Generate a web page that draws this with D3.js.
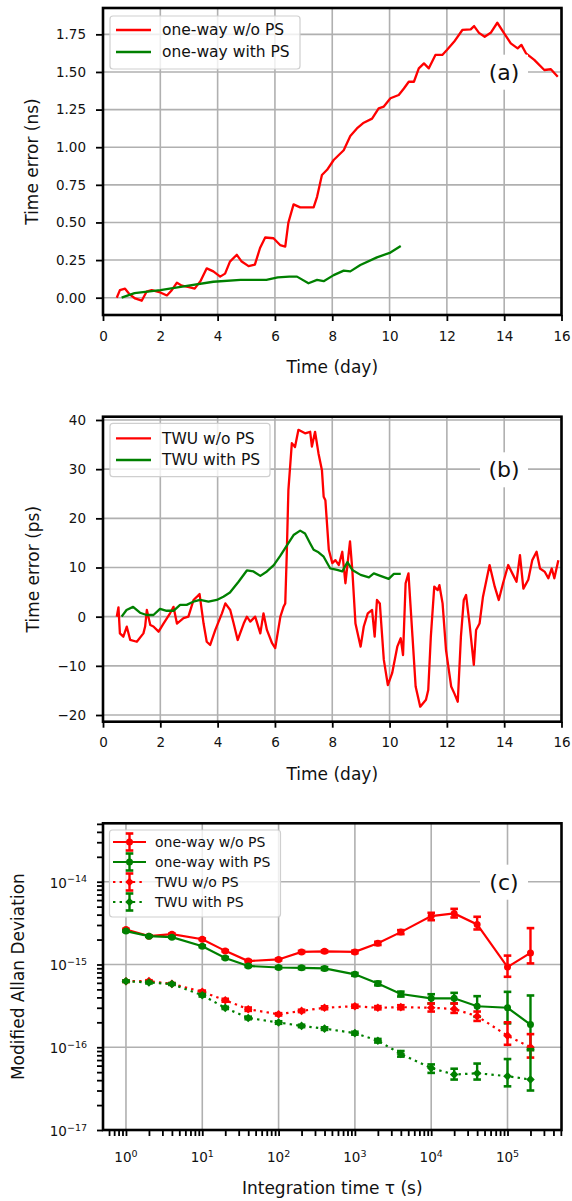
<!DOCTYPE html>
<html>
<head>
<meta charset="utf-8">
<title>Time error and Allan deviation</title>
<script src="https://d3js.org/d3.v7.min.js"></script>
<style>
  body { margin: 0; background: #fff; }
  text { font-family: "DejaVu Sans", sans-serif; fill: #111; }
</style>
</head>
<body>
<div id="chart"></div>
<script>
// ---- data ----
// (a) one-way time error, ns
var owNoPsT = [0.48, 0.59, 0.77, 0.94, 1.12, 1.35, 1.52, 1.7, 2.0, 2.23, 2.4, 2.58, 2.75, 3.0, 3.2, 3.4, 3.62, 3.85, 4.09, 4.26, 4.43, 4.67, 4.84, 5.08, 5.3, 5.48, 5.66, 5.95, 6.18, 6.36, 6.47, 6.65, 6.88, 7.35, 7.47, 7.64, 7.82, 8.05, 8.4, 8.63, 8.86, 9.1, 9.39, 9.62, 9.8, 10.03, 10.32, 10.5, 10.67, 10.85, 11.02, 11.2, 11.37, 11.6, 11.84, 12.0, 12.25, 12.54, 12.83, 12.95, 13.12, 13.32, 13.53, 13.76, 14.0, 14.23, 14.47, 14.6, 14.76, 15.05, 15.4, 15.63, 15.87];
var owNoPsV = [0.0, 0.05, 0.06, 0.02, -0.005, -0.02, 0.04, 0.05, 0.035, 0.015, 0.05, 0.1, 0.08, 0.07, 0.06, 0.11, 0.195, 0.175, 0.14, 0.16, 0.24, 0.285, 0.24, 0.21, 0.22, 0.33, 0.4, 0.395, 0.35, 0.34, 0.5, 0.62, 0.6, 0.6, 0.67, 0.815, 0.85, 0.915, 0.98, 1.075, 1.125, 1.163, 1.19, 1.258, 1.27, 1.325, 1.347, 1.39, 1.435, 1.435, 1.524, 1.557, 1.524, 1.613, 1.613, 1.646, 1.7, 1.779, 1.783, 1.805, 1.76, 1.734, 1.76, 1.827, 1.757, 1.69, 1.657, 1.68, 1.624, 1.58, 1.513, 1.518, 1.468];
var owPsT = [0.65, 1.1, 2.0, 2.93, 3.85, 4.8, 5.7, 6.1, 6.5, 6.77, 7.17, 7.47, 7.7, 8.05, 8.4, 8.63, 8.98, 9.56, 10.03, 10.39];
var owPsV = [0.0, 0.03, 0.05, 0.078, 0.106, 0.118, 0.118, 0.135, 0.14, 0.14, 0.096, 0.118, 0.11, 0.15, 0.18, 0.175, 0.217, 0.268, 0.3, 0.343];

// (b) TWU time error, ps
var twNoPsT = [0.48, 0.54, 0.59, 0.71, 0.83, 0.95, 1.18, 1.41, 1.47, 1.53, 1.65, 1.76, 1.94, 2.11, 2.34, 2.46, 2.58, 2.81, 2.98, 3.16, 3.37, 3.51, 3.62, 3.74, 3.92, 4.15, 4.27, 4.44, 4.56, 4.7, 4.91, 5.02, 5.14, 5.31, 5.49, 5.6, 5.72, 5.9, 6.01, 6.19, 6.3,
  6.36, 6.41, 6.47, 6.59, 6.7, 6.82, 7.05, 7.23, 7.29, 7.4, 7.52, 7.64, 7.7, 7.76, 7.88, 8.0, 8.11, 8.23, 8.35, 8.46, 8.62, 8.7, 8.81, 8.99, 9.1, 9.24, 9.39, 9.48, 9.56, 9.66, 9.8, 9.94, 10.09, 10.27, 10.39, 10.47, 10.56, 10.66, 10.8, 10.91, 11.07, 11.27, 11.35, 11.44, 11.56, 11.68, 11.74, 11.85, 11.97, 12.15, 12.26, 12.38, 12.49, 12.59, 12.67, 12.79, 12.94, 13.02, 13.14, 13.26, 13.49, 13.67, 13.81, 13.96, 14.14, 14.31, 14.43, 14.55, 14.67, 14.84, 14.98, 15.13, 15.25, 15.42, 15.54, 15.66, 15.75, 15.89];
var twNoPsV = [0, 1.9, -3.4, -4.07, -2.04, -4.74, -5.1, -3.4, -2.0, 1.36, -1.7, -2.0, -3.05, -1.4, 0.68, 2.0, -1.4, -0.3, 0.0, 3.4, 4.6, -1.4, -5.1, -5.76, -2.7, 0.68, 2.7, 1.36, -1.4, -4.74, -1.4, 0, -1.0, 0, -3.4, 0.68, -2.7, -5.4, -6.4, 0, 2.0,
  2.7, 12.2, 25.8, 35.3, 34.5, 38.0, 37.3, 37.6, 34.6, 37.6, 33.2, 29.8, 24.4, 23.7, 13.6, 10.9, 11.5, 10.5, 13.2, 6.8, 15.3, 9.5, -1.4, -6.1, -2.0, 0.68, 1.36, -4.07, 3.4, 2.7, -8.8, -13.9, -11.5, -6.1, -4.4, -7.8, 6.8, 8.8, -4.07, -14.2, -18.3, -16.9, -14.9, -4.07, 6.1, 5.4, 6.4, 2.7, -6.8, -14.2, -15.6, -17.3, -4.07, 3.4, 4.4, -1.4, -9.8, -2.7, -1.4, 4.07, 10.5, 6.1, 3.4, 6.8, 10.5, 8.5, 7.1, 12.5, 5.7, 7.5, 11.5, 13.2, 9.8, 9.1, 7.8, 9.8, 7.8, 11.5];
var twPsT = [0.65, 0.82, 1.05, 1.29, 1.52, 1.76, 1.99, 2.22, 2.46, 2.69, 2.92, 3.15, 3.39, 3.68, 3.97, 4.2, 4.43, 4.73, 5.02, 5.25, 5.49, 5.72, 5.96, 6.19, 6.43, 6.65, 6.88, 7.05, 7.23, 7.35, 7.52, 7.7, 7.93, 8.17, 8.35, 8.53, 8.7, 8.99, 9.28, 9.45, 9.68, 9.97, 10.15, 10.39];
var twPsV = [0.0, 1.36, 2.0, 0.8, 0.34, 0.34, 1.6, 1.2, 1.2, 2.4, 2.4, 3.05, 3.4, 3.05, 3.4, 4.07, 4.9, 7.1, 9.4, 9.2, 8.3, 9.2, 10.5, 12.4, 14.6, 16.6, 17.5, 16.9, 14.9, 13.6, 13.1, 12.2, 9.8, 9.5, 9.2, 11.1, 9.5, 8.5, 8.0, 8.8, 8.3, 7.7, 8.7, 8.7];

// (c) modified Allan deviation
var tau = [1, 2, 4, 10, 20, 40, 100, 200, 400, 1e3, 2e3, 4e3, 1e4, 2e4, 4e4, 1e5, 2e5];
var mdevOwNoPs = [2.65e-15, 2.2e-15, 2.32e-15, 2.02e-15, 1.46e-15, 1.1e-15, 1.15e-15, 1.42e-15, 1.44e-15, 1.42e-15, 1.8e-15, 2.46e-15, 3.84e-15, 4.14e-15, 3.05e-15, 9.3e-16, 1.38e-15];
var mdevOwNoPsLo = [2.6e-15, 2.16e-15, 2.27e-15, 1.98e-15, 1.43e-15, 1.07e-15, 1.12e-15, 1.38e-15, 1.4e-15, 1.37e-15, 1.72e-15, 2.33e-15, 3.43e-15, 3.7e-15, 2.65e-15, 7.1e-16, 1.03e-15];
var mdevOwNoPsHi = [2.7e-15, 2.24e-15, 2.37e-15, 2.06e-15, 1.49e-15, 1.13e-15, 1.18e-15, 1.46e-15, 1.48e-15, 1.47e-15, 1.88e-15, 2.6e-15, 4.21e-15, 4.7e-15, 3.77e-15, 1.28e-15, 2.75e-15];
var mdevOwPs = [2.53e-15, 2.2e-15, 2.14e-15, 1.66e-15, 1.2e-15, 9.6e-16, 9.2e-16, 9.1e-16, 8.95e-16, 7.6e-16, 5.9e-16, 4.4e-16, 3.9e-16, 3.9e-16, 3.13e-16, 3.0e-16, 1.88e-16];
var mdevOwPsLo = [2.48e-15, 2.16e-15, 2.1e-15, 1.62e-15, 1.17e-15, 9.35e-16, 8.95e-16, 8.8e-16, 8.6e-16, 7.3e-16, 5.6e-16, 4.1e-16, 3.38e-16, 3.38e-16, 2.33e-16, 1.94e-16, 9.2e-17];
var mdevOwPsHi = [2.58e-15, 2.24e-15, 2.18e-15, 1.7e-15, 1.23e-15, 9.85e-16, 9.45e-16, 9.4e-16, 9.3e-16, 7.9e-16, 6.2e-16, 4.7e-16, 4.37e-16, 4.54e-16, 4.14e-16, 4.67e-16, 4.22e-16];
var mdevTwNoPs = [6.28e-16, 6.3e-16, 5.83e-16, 4.67e-16, 3.7e-16, 2.88e-16, 2.5e-16, 2.75e-16, 3.0e-16, 3.13e-16, 3.0e-16, 3.05e-16, 3.0e-16, 2.9e-16, 2.37e-16, 1.38e-16, 1.0e-16];
var mdevTwNoPsLo = [6.15e-16, 6.15e-16, 5.7e-16, 4.5e-16, 3.55e-16, 2.75e-16, 2.42e-16, 2.66e-16, 2.88e-16, 3.0e-16, 2.87e-16, 2.88e-16, 2.7e-16, 2.6e-16, 2.08e-16, 1.07e-16, 7.5e-17];
var mdevTwNoPsHi = [6.42e-16, 6.45e-16, 5.96e-16, 4.84e-16, 3.85e-16, 3.02e-16, 2.58e-16, 2.84e-16, 3.12e-16, 3.26e-16, 3.14e-16, 3.22e-16, 3.38e-16, 3.38e-16, 2.7e-16, 2.0e-16, 1.44e-16];
var mdevTwPs = [6.28e-16, 6.05e-16, 5.8e-16, 4.25e-16, 2.99e-16, 2.26e-16, 1.99e-16, 1.81e-16, 1.68e-16, 1.48e-16, 1.2e-16, 8.3e-17, 5.6e-17, 4.68e-17, 4.85e-17, 4.47e-17, 4.07e-17];
var mdevTwPsLo = [6.15e-16, 5.9e-16, 5.66e-16, 4.1e-16, 2.9e-16, 2.18e-16, 1.92e-16, 1.75e-16, 1.62e-16, 1.42e-16, 1.14e-16, 7.7e-17, 4.9e-17, 4.07e-17, 4.07e-17, 3.37e-17, 3.0e-17];
var mdevTwPsHi = [6.42e-16, 6.2e-16, 5.95e-16, 4.4e-16, 3.08e-16, 2.34e-16, 2.06e-16, 1.87e-16, 1.74e-16, 1.54e-16, 1.26e-16, 9.0e-17, 6.2e-17, 5.5e-17, 6.35e-17, 7.2e-17, 9.5e-17];

var dayTicks = [0, 2, 4, 6, 8, 10, 12, 14, 16];
var nsTicks = [0, 0.25, 0.5, 0.75, 1.0, 1.25, 1.5, 1.75];
var psTicks = [-20, -10, 0, 10, 20, 30, 40];
var tauTicks = [1, 10, 100, 1e3, 1e4, 1e5];
var mdevTicks = [1e-17, 1e-16, 1e-15, 1e-14];

var RED = '#ff0000', GREEN = '#008000', GRID = '#b0b0b0';

// ---- layout ----
var left = 103, right = 561.5;
var svg = d3.select('#chart').append('svg').attr('width', 572).attr('height', 1201);

var xA = d3.scaleLinear().domain([0, 16]).range([left, right]);
var yA = d3.scaleLinear().domain([-0.115, 1.925]).range([315, 8]);
var xB = d3.scaleLinear().domain([0, 16]).range([left, right]);
var yB = d3.scaleLinear().domain([-21.36, 40.67]).range([721.7, 416.7]);
var xC = d3.scaleLog().domain([0.5, 5.1e5]).range([left, right]);
var yC = d3.scaleLog().domain([1e-17, 5.08e-14]).range([1130, 823.3]);

function grid(g, x, y, xt, yt) {
  g.selectAll('.gx').data(xt).enter().append('line')
    .attr('x1', function(d) { return x(d); }).attr('x2', function(d) { return x(d); })
    .attr('y1', y.range()[0]).attr('y2', y.range()[1])
    .style('stroke', GRID).style('stroke-width', 1.6);
  g.selectAll('.gy').data(yt).enter().append('line')
    .attr('x1', left).attr('x2', right)
    .attr('y1', function(d) { return y(d); }).attr('y2', function(d) { return y(d); })
    .style('stroke', GRID).style('stroke-width', 1.6);
}

function frame(g, y) {
  g.append('rect').attr('x', left).attr('y', y.range()[1])
    .attr('width', right - left).attr('height', y.range()[0] - y.range()[1])
    .style('fill', 'none').style('stroke', '#000').style('stroke-width', 2.6);
}

function axes(g, x, y, xt, yt, xfmt, yfmt) {
  var b = y.range()[0];
  g.append('g').attr('transform', 'translate(0,' + b + ')')
    .call(d3.axisBottom(x).tickValues(xt).tickSize(6).tickPadding(10).tickFormat(xfmt))
    .call(styleAxis);
  g.append('g').attr('transform', 'translate(' + left + ',0)')
    .call(d3.axisLeft(y).tickValues(yt).tickSize(7).tickPadding(10).tickFormat(yfmt))
    .call(styleAxis);
}

function styleAxis(a) {
  a.select('.domain').remove();
  a.selectAll('.tick line').style('stroke', '#000').style('stroke-width', 1.8);
  a.selectAll('.tick text').style('font-family', '"DejaVu Sans", sans-serif')
    .style('font-size', '13.5px').style('fill', '#111');
}

function axisTitles(g, x, y, xlabel, ylabel, xoff, ylx) {
  var b = y.range()[0], t = y.range()[1];
  g.append('text').attr('x', (left + right) / 2).attr('y', b + xoff).attr('dy', '0.35em')
    .attr('text-anchor', 'middle').style('font-size', '17px').text(xlabel);
  g.append('text').attr('transform', 'translate(' + ylx + ',' + ((b + t) / 2) + ') rotate(-90)')
    .attr('dy', '0.35em').attr('text-anchor', 'middle').style('font-size', '17px').text(ylabel);
}

function panelLabel(g, cx, cy, txt) {
  g.append('rect').attr('x', cx - 24).attr('y', cy - 17).attr('width', 48).attr('height', 35)
    .style('fill', '#fff');
  g.append('text').attr('x', cx).attr('y', cy).attr('dy', '0.36em').attr('text-anchor', 'middle')
    .style('font-size', '22px').text(txt);
}

function legendBox(g, x, y, w, h) {
  g.append('rect').attr('x', x).attr('y', y).attr('width', w).attr('height', h)
    .attr('rx', 3).style('fill', '#fff').style('fill-opacity', 0.8)
    .style('stroke', '#cfcfcf').style('stroke-width', 1.2);
}

function series(g, x, y, tt, vv, color) {
  var line = d3.line().x(function(d) { return x(d[0]); }).y(function(d) { return y(d[1]); });
  g.append('path').attr('d', line(d3.zip(tt, vv)))
    .style('fill', 'none').style('stroke', color).style('stroke-width', 2.3)
    .style('stroke-linejoin', 'round');
}

// ---- panel (a) ----
var gA = svg.append('g');
grid(gA, xA, yA, dayTicks, nsTicks);
series(gA, xA, yA, owNoPsT, owNoPsV, RED);
series(gA, xA, yA, owPsT, owPsV, GREEN);
panelLabel(gA, 504, 71.7, '(a)');
frame(gA, yA);
axes(gA, xA, yA, dayTicks, nsTicks, d3.format('d'), d3.format('.2f'));
axisTitles(gA, xA, yA, 'Time (day)', 'Time error (ns)', 52, 31.7);
legendBox(gA, 110, 16, 190, 53);
[['one-way w/o PS', RED, 30], ['one-way with PS', GREEN, 52]].forEach(function(e) {
  gA.append('line').attr('x1', 116).attr('x2', 151).attr('y1', e[2]).attr('y2', e[2])
    .style('stroke', e[1]).style('stroke-width', 2.3);
  gA.append('text').attr('x', 162).attr('y', e[2]).attr('dy', '0.35em')
    .style('font-size', '15.5px').text(e[0]);
});

// ---- panel (b) ----
var gB = svg.append('g');
grid(gB, xB, yB, dayTicks, psTicks);
series(gB, xB, yB, twNoPsT, twNoPsV, RED);
series(gB, xB, yB, twPsT, twPsV, GREEN);
panelLabel(gB, 504, 469.3, '(b)');
frame(gB, yB);
axes(gB, xB, yB, dayTicks, psTicks, d3.format('d'), function(d) { return d < 0 ? '\u2212' + Math.abs(d) : d; });
axisTitles(gB, xB, yB, 'Time (day)', 'Time error (ps)', 52, 33);
legendBox(gB, 110, 423.3, 160, 53.4);
[['TWU w/o PS', RED, 438.3], ['TWU with PS', GREEN, 460]].forEach(function(e) {
  gB.append('line').attr('x1', 116).attr('x2', 151).attr('y1', e[2]).attr('y2', e[2])
    .style('stroke', e[1]).style('stroke-width', 2.3);
  gB.append('text').attr('x', 162).attr('y', e[2]).attr('dy', '0.35em')
    .style('font-size', '15.5px').text(e[0]);
});

// ---- panel (c) ----
var gC = svg.append('g');
grid(gC, xC, yC, tauTicks, mdevTicks);

function diamond(s) { return 'M0,' + (-s) + 'L' + s + ',0L0,' + s + 'L' + (-s) + ',0Z'; }

function errSeries(g, vals, lo, hi, color, dotted) {
  var pts = tau.map(function(t, i) { return {t: t, v: vals[i], lo: lo[i], hi: hi[i]}; });
  var line = d3.line().x(function(d) { return xC(d.t); }).y(function(d) { return yC(d.v); });
  var path = g.append('path').attr('d', line(pts)).style('fill', 'none')
    .style('stroke', color).style('stroke-width', 2.2);
  if (dotted) path.style('stroke-dasharray', '2.4,4.2');
  var eb = g.selectAll(null).data(pts).enter().append('g');
  eb.append('line').attr('x1', function(d) { return xC(d.t); }).attr('x2', function(d) { return xC(d.t); })
    .attr('y1', function(d) { return yC(d.lo); }).attr('y2', function(d) { return yC(d.hi); })
    .style('stroke', color).style('stroke-width', 2.4);
  ['lo', 'hi'].forEach(function(k) {
    eb.append('line').attr('x1', function(d) { return xC(d.t) - 3.8; }).attr('x2', function(d) { return xC(d.t) + 3.8; })
      .attr('y1', function(d) { return yC(d[k]); }).attr('y2', function(d) { return yC(d[k]); })
      .style('stroke', color).style('stroke-width', 2.6);
  });
  if (dotted) {
    eb.append('path').attr('d', diamond(4.3))
      .attr('transform', function(d) { return 'translate(' + xC(d.t) + ',' + yC(d.v) + ')'; })
      .style('fill', color);
  } else {
    eb.append('circle').attr('cx', function(d) { return xC(d.t); }).attr('cy', function(d) { return yC(d.v); })
      .attr('r', 3.5).style('fill', color);
  }
}

errSeries(gC, mdevOwNoPs, mdevOwNoPsLo, mdevOwNoPsHi, RED, false);
errSeries(gC, mdevOwPs, mdevOwPsLo, mdevOwPsHi, GREEN, false);
errSeries(gC, mdevTwNoPs, mdevTwNoPsLo, mdevTwNoPsHi, RED, true);
errSeries(gC, mdevTwPs, mdevTwPsLo, mdevTwPsHi, GREEN, true);
panelLabel(gC, 504, 881.7, '(c)');
frame(gC, yC);

// log axes with minor ticks
var minorX = [], minorY = [];
for (var e = -1; e <= 5; e++) for (var m = 2; m <= 9; m++) {
  var v = m * Math.pow(10, e);
  if (v > 0.5 && v < 5.1e5) minorX.push(v);
}
for (var e2 = -17; e2 <= -14; e2++) for (var m2 = 2; m2 <= 9; m2++) {
  var w = m2 * Math.pow(10, e2);
  if (w < 5.08e-14) minorY.push(w);
}
gC.append('g').attr('transform', 'translate(0,1130)')
  .call(d3.axisBottom(xC).tickValues(tauTicks.concat(minorX)).tickSize(6).tickFormat(''))
  .call(styleAxis);
gC.append('g').attr('transform', 'translate(' + left + ',0)')
  .call(d3.axisLeft(yC).tickValues(mdevTicks.concat(minorY)).tickSize(6).tickFormat(''))
  .call(styleAxis);

tauTicks.forEach(function(t) {
  var tx = gC.append('text').attr('x', xC(t)).attr('y', 1162).attr('text-anchor', 'middle')
    .style('font-size', '13.5px');
  tx.append('tspan').text('10');
  tx.append('tspan').attr('dy', '-0.55em').style('font-size', '9.5px').text(Math.round(Math.log10(t)));
});
mdevTicks.forEach(function(t) {
  var ty = gC.append('text').attr('x', 87).attr('y', yC(t) + 6).attr('text-anchor', 'end')
    .style('font-size', '13.5px');
  ty.append('tspan').text('10');
  ty.append('tspan').attr('dy', '-0.55em').style('font-size', '9.5px')
    .text('\u2212' + Math.abs(Math.round(Math.log10(t))));
});
axisTitles(gC, xC, yC, 'Integration time \u03c4 (s)', 'Modified Allan Deviation', 58, 18);

legendBox(gC, 109.5, 830, 171, 87);
[['one-way w/o PS', RED, 842, false], ['one-way with PS', GREEN, 862, false],
 ['TWU w/o PS', RED, 882, true], ['TWU with PS', GREEN, 902, true]].forEach(function(e) {
  var l = gC.append('line').attr('x1', 113).attr('x2', 146).attr('y1', e[2]).attr('y2', e[2])
    .style('stroke', e[1]).style('stroke-width', 2.2);
  if (e[3]) l.style('stroke-dasharray', '2.4,4.2');
  gC.append('line').attr('x1', 129.5).attr('x2', 129.5).attr('y1', e[2] - 8.5).attr('y2', e[2] + 8.5)
    .style('stroke', e[1]).style('stroke-width', 2.4);
  [-8.5, 8.5].forEach(function(o) {
    gC.append('line').attr('x1', 125.7).attr('x2', 133.3).attr('y1', e[2] + o).attr('y2', e[2] + o)
      .style('stroke', e[1]).style('stroke-width', 2.6);
  });
  if (e[3]) {
    gC.append('path').attr('d', diamond(4.3)).attr('transform', 'translate(129.5,' + e[2] + ')').style('fill', e[1]);
  } else {
    gC.append('circle').attr('cx', 129.5).attr('cy', e[2]).attr('r', 3.5).style('fill', e[1]);
  }
  gC.append('text').attr('x', 155).attr('y', e[2]).attr('dy', '0.35em')
    .style('font-size', '14px').text(e[0]);
});
</script>
</body>
</html>
